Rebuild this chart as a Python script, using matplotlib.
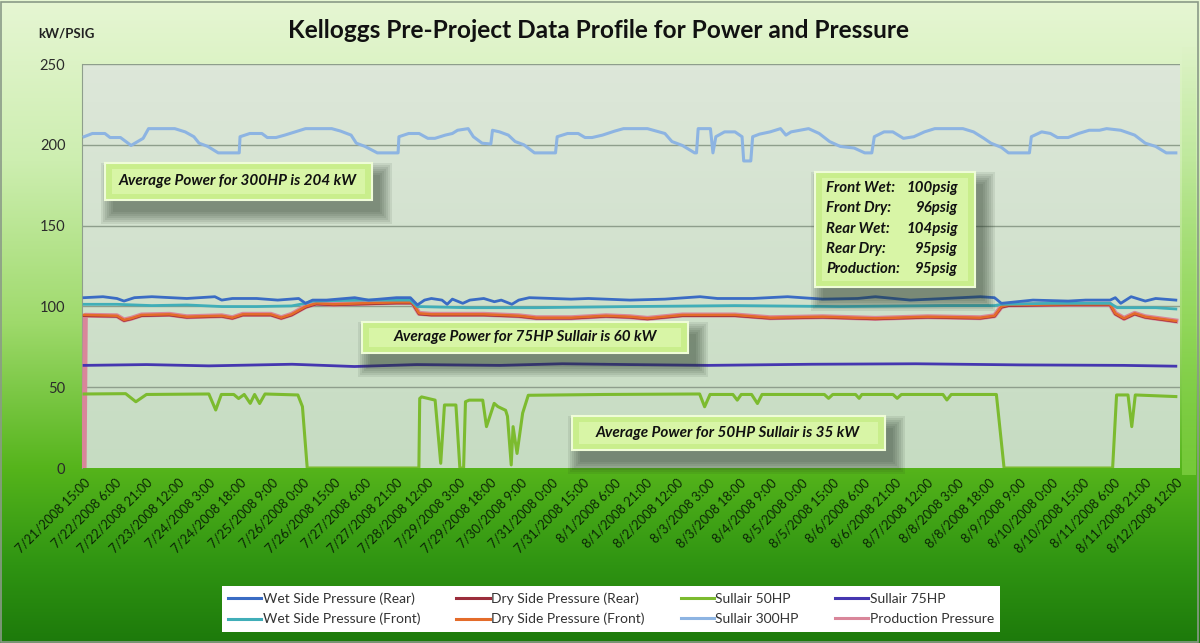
import numpy as np
import matplotlib.pyplot as plt
from matplotlib.colors import LinearSegmentedColormap
from matplotlib.patches import Rectangle

plt.rcParams['font.family'] = ['Lato', 'DejaVu Sans']

# ---- data (hours since 7/21/2008 15:00, value) ----
tick_labels = [
    '7/21/2008 15:00', '7/22/2008 6:00', '7/22/2008 21:00', '7/23/2008 12:00',
    '7/24/2008 3:00', '7/24/2008 18:00', '7/25/2008 9:00', '7/26/2008 0:00',
    '7/26/2008 15:00', '7/27/2008 6:00', '7/27/2008 21:00', '7/28/2008 12:00',
    '7/29/2008 3:00', '7/29/2008 18:00', '7/30/2008 9:00', '7/31/2008 0:00',
    '7/31/2008 15:00', '8/1/2008 6:00', '8/1/2008 21:00', '8/2/2008 12:00',
    '8/3/2008 3:00', '8/3/2008 18:00', '8/4/2008 9:00', '8/5/2008 0:00',
    '8/5/2008 15:00', '8/6/2008 6:00', '8/6/2008 21:00', '8/7/2008 12:00',
    '8/8/2008 3:00', '8/8/2008 18:00', '8/9/2008 9:00', '8/10/2008 0:00',
    '8/10/2008 15:00', '8/11/2008 6:00', '8/11/2008 21:00', '8/12/2008 12:00',
]
tick_hours = [15 * i for i in range(len(tick_labels))]

s300_t = [0, 4, 10, 12.5, 17.5, 22.6, 28.4, 31, 43.6, 48.6, 52.8, 55.3, 59.5, 64.5, 74.6, 75,
          79.7, 85.5, 88.1, 92.3, 96.5, 101.5, 106.5, 119.1, 123.3, 128.4, 130.9, 135.1, 141, 151,
          151.4, 156.1, 161.1, 165.3, 168.7, 173.7, 177.1, 179.6, 184.7, 187.2, 191.4, 195.6, 196.4,
          199.8, 204, 207.3, 211.5, 216.6, 226.7, 227.5, 232.5, 237.6, 240.9, 244.3, 249.3, 255.2,
          259.4, 270.9, 279.3, 282.7, 287.7, 293.6, 294.5, 295.3, 301.2, 302.4, 303.8, 308, 313,
          316.4, 317.2, 320.6, 321.5, 324.8, 329.9, 334.9, 337.5, 340, 348.4, 353.5, 358.5, 363.6,
          370.3, 375.4, 378.8, 380, 384.7, 388.9, 394, 399, 404.1, 409.1, 422.6, 427.7, 432.7,
          436.1, 441.1, 444.5, 454.6, 455.5, 460.5, 464.7, 468.1, 473.2, 478.2, 483.3, 488.3,
          491.7, 498.5, 505.2, 510.3, 515.3, 520.4, 525]
s300_v = [205, 207, 207, 204.5, 204.5, 199.6, 204, 210, 210, 208, 205, 201, 199, 195, 195, 205,
          207, 207, 204.5, 204.5, 206, 208, 210, 210, 208.5, 206, 201, 199, 195, 195,
          205, 207, 207, 204, 204, 206, 207, 209, 210, 205, 201, 200.5, 209,
          208, 206, 202, 200, 195, 195, 205, 207, 207, 204.5, 204.5, 206, 208.5,
          210, 210, 207, 202, 199.6, 195, 195, 210, 210, 195, 205, 208, 208,
          205, 190, 190, 205, 206.6, 208, 210, 206, 208, 210, 207, 202, 199,
          198, 195, 195, 205, 208, 208, 204, 205, 208, 210, 210, 208, 204,
          201, 198.4, 195, 195, 205, 208, 207, 204.5, 204.5, 207, 209, 209,
          210, 209, 206, 201, 199, 195, 195]

wet_rear_t = [0, 9.1, 15.8, 19.2, 24.2, 32.6, 49.4, 62.9, 66.2, 71.3, 83, 93.1, 103.2, 106.5,
              109.9, 116.6, 130.1, 136.8, 150.2, 156.9, 160.3, 163.7, 167, 172.1, 174.6, 177.1,
              182.1, 185.5, 192.2, 197.3, 200.6, 205.7, 209, 214.1, 234.2, 242.6, 262.5, 279.3,
              296.2, 304.6, 321.5, 338.3, 355.2, 372, 380.5, 397.3, 414.2, 431, 437.8, 441.1,
              456.3, 473.2, 481.6, 493.4, 495.9, 498.5, 503.5, 510.3, 515.3, 525]
wet_rear_v = [105.4, 106, 104.9, 103.3, 105.4, 106, 104.9, 106, 103.9, 104.9, 104.9, 103.9, 104.9,
              101.9, 103.9, 103.9, 105.4, 103.9, 105.4, 105.4, 100.9, 103.9, 104.9, 103.9, 101.3,
              104.5, 101.9, 103.9, 104.9, 102.9, 103.9, 101.3, 103.9, 105.4, 104.5, 104.9, 103.9,
              104.5, 106, 104.9, 104.9, 106, 104.5, 104.9, 106, 103.9, 104.9, 106, 105.4, 101.9,
              103.9, 103.3, 103.9, 103.9, 105.4, 101.9, 106, 103.3, 104.9, 103.9]

wet_front_t = [0, 15.8, 32.6, 49.4, 66.2, 83, 99.8, 106.5, 109.9, 133.4, 156.9, 160.3, 183.8,
               217.4, 262.5, 313, 363.6, 414.2, 437.8, 441.1, 464.7, 493.4, 496.8, 515.3, 525]
wet_front_v = [101.3, 101.3, 100.5, 100.9, 99.9, 99.9, 100.3, 101.9, 103.3, 103.9, 103.9, 99.9,
               99.2, 99.2, 99.9, 100.5, 99.9, 100.5, 100.5, 101.3, 101.9, 101.9, 99.2, 99.2, 98.4]

dry_t = [0, 15.8, 19.2, 22.6, 27.6, 41, 49.4, 66.2, 71.3, 76.3, 89.8, 94.8, 99.8, 106.5, 111.6,
         120, 133.4, 150.2, 157.8, 161.1, 167, 192.2, 209, 217.4, 234.2, 242.6, 251, 262.5,
         270.9, 287.7, 313, 329.9, 355.2, 380.5, 405.7, 431, 437.8, 441.1, 444.5, 473.2, 493.4,
         495.9, 500.1, 505.2, 510.3, 525]
dry_front_v = [94.7, 94.2, 91.6, 92.6, 94.7, 95.1, 93.6, 94.2, 93.0, 95.1, 95.1, 93.0, 95.1, 99.9,
               101.9, 101.3, 101.9, 102.5, 102.5, 95.7, 95.1, 95.1, 94.2, 93.0, 93.0, 93.6, 94.2,
               93.6, 92.6, 94.7, 94.7, 93.0, 93.6, 92.6, 93.6, 93.0, 94.2, 99.9, 100.9, 101.3,
               101.3, 95.7, 92.6, 95.7, 93.6, 91.0]
dry_rear_v = [94.2, 93.8, 91.2, 92.2, 94.2, 94.6, 93.2, 93.8, 92.6, 94.6, 94.6, 92.6, 94.6, 99.4,
              101.4, 100.9, 101.4, 102.0, 102.0, 95.2, 94.6, 94.6, 93.8, 92.6, 92.6, 93.2, 93.8,
              93.2, 92.2, 94.2, 94.2, 92.6, 93.2, 92.2, 93.2, 92.6, 93.8, 99.4, 100.4, 100.9,
              100.9, 95.2, 92.2, 95.2, 93.2, 90.6]
prod_t = [0, 0.6] + dry_t[1:]
prod_v = [0, 94.5] + dry_front_v[1:]

s75_t = [0, 30, 60, 100, 130, 160, 200, 230, 262, 300, 350, 400, 450, 500, 525]
s75_v = [63.5, 64, 63.2, 64.2, 62.8, 64, 63.5, 64.5, 64, 63.5, 64.2, 64.5, 63.8, 63.5, 63]

s50_t = [0, 20, 24.9, 30, 60, 63.3, 66, 72, 74.3, 77, 79.9, 82, 84.4, 87, 102.8, 105, 107.3,
         161, 161.4, 162.3, 168.8, 171.5, 173.3, 178.8, 180.7, 182.5, 183.4, 185.2, 191.7,
         193.5, 197.2, 199, 202.7, 203.6, 205.4, 206.3, 208.2, 210.9, 213.6, 250, 296, 298.4,
         301, 312, 314.1, 316, 321, 323.8, 326, 356, 358, 360, 371, 372.7, 374, 389, 391, 393,
         413, 414.9, 417, 438.7, 442.4, 494.6, 496.5, 502, 503.8, 505.5, 525]
s50_v = [45.8, 46, 41, 45.5, 45.8, 35.9, 45.5, 45.5, 43, 45.5, 40, 45.5, 39.9, 45.8, 45.2, 38,
         0, 0, 43, 44, 42, 2.9, 39, 39, 0, 0, 41, 42, 42, 25.6, 40, 38, 35.7, 32, 1.9, 25.6, 9, 34,
         45, 45.5, 45.8, 37.9, 45.5, 45.5, 42, 45.5, 45.5, 39.9, 45.5, 45.5, 43.1, 45.5, 45.5,
         43.1, 45.5, 45.5, 43.1, 45.5, 45.5, 42.1, 45.5, 45.5, 0, 0, 45.2, 45.2, 25.6, 45.2, 44.2]

# ---- figure ----
W, H = 1200, 643
fig = plt.figure(figsize=(W / 100, H / 100), dpi=100)

bg = fig.add_axes([0, 0, 1, 1], zorder=-10)
bg_cmap = LinearSegmentedColormap.from_list(
    'bg', [(0, '#1d7a0b'), (0.12, '#2f9412'), (0.27, '#55b41b'), (0.5, '#9fda6c'),
           (0.75, '#cdeeb0'), (1, '#e6f6d3')])
bg.imshow(np.linspace(0, 1, 256).reshape(-1, 1), aspect='auto', cmap=bg_cmap,
          origin='lower', extent=[0, 1, 0, 1])
# brighter strip on the right edge, fading out towards the top
strip = np.zeros((64, 1, 4))
strip[..., 0], strip[..., 1], strip[..., 2] = 0.52, 0.83, 0.28
strip[:, 0, 3] = np.linspace(0.7, 0.0, 64)
bg.imshow(strip, aspect='auto', origin='lower',
          extent=[1182 / W, 1196 / W, 1 - 475 / H, 1 - 40 / H])
bg.add_patch(Rectangle((0.001, 0.002), 0.997, 0.995, fill=False, ec='#8a9a88', lw=1.2))
bg.set_xlim(0, 1)
bg.set_ylim(0, 1)
bg.axis('off')

ax = fig.add_axes([82 / W, 1 - 468 / H, (1180 - 82) / W, (468 - 64) / H])
pa_cmap = LinearSegmentedColormap.from_list('pa', ['#c6dcc2', '#dde7d9'])
ax.imshow(np.linspace(0, 1, 64).reshape(-1, 1), aspect='auto', cmap=pa_cmap, origin='lower',
          extent=[0, 1, 0, 1], transform=ax.transAxes, zorder=0)

for yv in [50, 100, 150, 200, 250]:
    ax.axhline(yv, color='#8e9e8c', lw=1.0, zorder=1)

ax.plot(s300_t, s300_v, color='#8db4e2', lw=2.2, zorder=3, label='Sullair 300HP')
ax.plot(prod_t, prod_v, color='#d9869a', lw=3.6, zorder=3, label='Production Pressure')
ax.plot(dry_t, dry_rear_v, color='#9b2d3c', lw=1.8, zorder=4, label='Dry Side Pressure (Rear)')
ax.plot(dry_t, dry_front_v, color='#e46c2a', lw=1.8, zorder=4, label='Dry Side Pressure (Front)')
ax.plot(wet_front_t, wet_front_v, color='#40aeb8', lw=2.0, zorder=4, label='Wet Side Pressure (Front)')
ax.plot(wet_rear_t, wet_rear_v, color='#3a6cc4', lw=2.0, zorder=5, label='Wet Side Pressure (Rear)')
ax.plot(s75_t, s75_v, color='#4536b0', lw=2.0, zorder=4, label='Sullair 75HP')
ax.plot(s50_t, s50_v, color='#7cbb2f', lw=2.2, zorder=4, label='Sullair 50HP')

ax.set_xlim(-1, 527)
ax.set_ylim(0, 250)
ax.set_yticks([0, 50, 100, 150, 200, 250])
ax.set_xticks(tick_hours)
ax.set_xticklabels(tick_labels, rotation=45, ha='right', rotation_mode='anchor',
                   fontsize=9.2, color='#0c2606')
ax.tick_params(axis='y', length=0, pad=12, labelsize=10.5, labelcolor='#2b2b2b')
ax.tick_params(axis='x', length=0, pad=6)
for side in ['top', 'right', 'bottom']:
    ax.spines[side].set_visible(False)
ax.spines['left'].set_color('#8e9e8c')

# ---- titles ----
fig.text(599 / W, 1 - 30 / H, 'Kelloggs Pre-Project Data Profile for Power and Pressure',
         ha='center', va='center', fontsize=17.6, fontweight='bold', color='#111111')
fig.text(38 / W, 1 - 33 / H, 'kW/PSIG', ha='left', va='center', fontsize=9.5,
         fontweight='bold', color='#222222')


# ---- callout boxes ----
def callout(x0, y0, x1, y1):
    # soft shadow: stacked translucent rectangles
    for k in range(7):
        g = 2 * k
        sh = Rectangle(((x0 + 8 - g) / W, 1 - (y1 + 12 + g) / H),
                       (x1 - x0 + 2 * g) / W, (y1 - y0 + 2 * g) / H,
                       transform=fig.transFigure, fc='#243424', ec='none',
                       alpha=0.09, zorder=5)
        fig.add_artist(sh)
    fig.add_artist(Rectangle((x0 / W, 1 - y1 / H), (x1 - x0) / W, (y1 - y0) / H,
                             transform=fig.transFigure, fc='#c9ee8c', ec='none', zorder=6))
    fig.add_artist(Rectangle(((x0 + 7) / W, 1 - (y1 - 6) / H), (x1 - x0 - 14) / W,
                             (y1 - y0 - 12) / H, transform=fig.transFigure,
                             fc='#d8f5a6', ec='none', zorder=6))
    fig.add_artist(Rectangle((x0 / W, 1 - y1 / H), (x1 - x0) / W, (y1 - y0) / H,
                             transform=fig.transFigure, fill=False, ec='#effcd8', lw=1.5,
                             zorder=6))


callout(105, 163, 372, 200)
fig.text(238 / W, 1 - 181 / H, 'Average Power for 300HP is 204 kW', ha='center', va='center',
         fontsize=11, fontweight='bold', style='italic', color='#111111', zorder=7)
callout(362, 322, 688, 353)
fig.text(525 / W, 1 - 337 / H, 'Average Power for 75HP Sullair is 60 kW', ha='center', va='center',
         fontsize=11, fontweight='bold', style='italic', color='#111111', zorder=7)
callout(572, 416, 885, 450)
fig.text(728 / W, 1 - 433 / H, 'Average Power for 50HP Sullair is 35 kW', ha='center', va='center',
         fontsize=11, fontweight='bold', style='italic', color='#111111', zorder=7)
callout(815, 172, 975, 287)

box_labels = ['Front Wet:', 'Front Dry:', 'Rear Wet:', 'Rear Dry:', 'Production:']
box_values = ['100psig', '96psig', '104psig', '95psig', '95psig']
for i, (lab, val) in enumerate(zip(box_labels, box_values)):
    yy = 1 - (188 + i * 20.3) / H
    fig.text(826 / W, yy, lab, ha='left', va='center', fontsize=10.8, fontweight='bold',
             style='italic', color='#111111', zorder=7)
    fig.text(958 / W, yy, val, ha='right', va='center', fontsize=10.8, fontweight='bold',
             style='italic', color='#111111', zorder=7)

# ---- legend ----
handles, labels = ax.get_legend_handles_labels()
order = ['Wet Side Pressure (Rear)', 'Wet Side Pressure (Front)', 'Dry Side Pressure (Rear)',
         'Dry Side Pressure (Front)', 'Sullair 50HP', 'Sullair 300HP', 'Sullair 75HP',
         'Production Pressure']
hmap = dict(zip(labels, handles))
leg = fig.legend([hmap[k] for k in order], order, ncol=4, loc='center',
                 bbox_to_anchor=(611 / W, 1 - 609 / H), frameon=True, fancybox=False,
                 facecolor='white', edgecolor='none', framealpha=1, fontsize=10,
                 handlelength=2.4, handletextpad=0.1, columnspacing=2.6, labelspacing=0.55,
                 borderpad=0.45)
for t in leg.get_texts():
    t.set_color('#333333')
for line in leg.get_lines():
    line.set_linewidth(2.2)

fig.savefig('out.png', dpi=100)
